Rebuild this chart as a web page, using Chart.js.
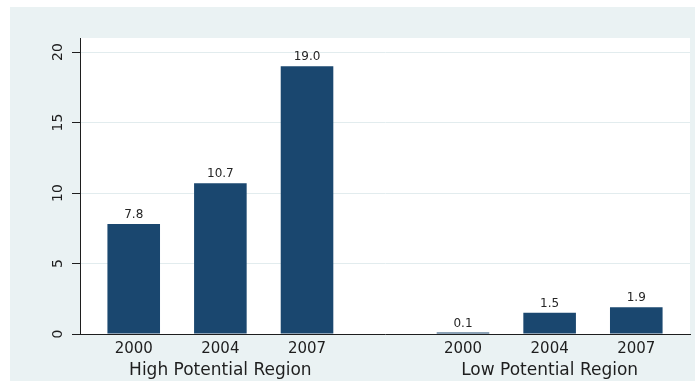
<!DOCTYPE html>
<html>
<head>
<meta charset="utf-8">
<script src="https://cdn.jsdelivr.net/npm/chart.js@4/dist/chart.umd.min.js"></script>
<style>
  html, body { margin: 0; padding: 0; background: #ffffff; }
  canvas { display: block; }
</style>
</head>
<body>
<canvas id="chart" width="696" height="384"></canvas>
<script>
// Region groups, survey years and values per region
const groups = ['High Potential Region', 'Low Potential Region'];
const years = ['2000', '2004', '2007'];
const highPotential = [7.8, 10.7, 19.0];
const lowPotential = [0.1, 1.5, 1.9];
const yTicks = [0, 5, 10, 15, 20];

const seriesByGroup = [highPotential, lowPotential];
const GROUP_GAP = 0.8;              // extra slot space between the two region groups
const slotOf = (g, i) => g * (years.length + GROUP_GAP) + i;

const points = [];
const yearTicks = [];
const groupTicks = [];
seriesByGroup.forEach((vals, g) => {
  vals.forEach((v, i) => {
    points.push({ x: slotOf(g, i), y: v });
    yearTicks.push({ value: slotOf(g, i), label: years[i] });
  });
  groupTicks.push({ value: slotOf(g, (years.length - 1) / 2), label: groups[g] });
});

const X_MIN = -0.62;
const X_MAX = slotOf(groups.length - 1, years.length - 1) + 0.62;

Chart.defaults.font.family = "'DejaVu Sans', sans-serif";

// Light outer panel and white plot region
const panelBackground = {
  id: 'panelBackground',
  beforeDraw(chart) {
    const { ctx, chartArea: a } = chart;
    ctx.save();
    ctx.fillStyle = '#ffffff';
    ctx.fillRect(0, 0, chart.width, chart.height);
    ctx.fillStyle = '#eaf2f3';
    ctx.fillRect(10, 7, chart.width - 11, chart.height - 10);
    ctx.fillStyle = '#ffffff';
    ctx.fillRect(a.left, a.top, a.right - a.left, a.bottom - a.top);
    ctx.restore();
  }
};

// Value printed above each bar
const barValues = {
  id: 'barValues',
  afterDatasetsDraw(chart) {
    const { ctx } = chart;
    const meta = chart.getDatasetMeta(0);
    ctx.save();
    ctx.font = "12px 'DejaVu Sans', sans-serif";
    ctx.fillStyle = '#262626';
    ctx.textAlign = 'center';
    ctx.textBaseline = 'alphabetic';
    meta.data.forEach((bar, i) => {
      const v = chart.data.datasets[0].data[i].y;
      ctx.fillText(v.toFixed(1), bar.x, bar.y - 6);
    });
    ctx.restore();
  }
};

new Chart(document.getElementById('chart'), {
  type: 'bar',
  data: {
    datasets: [{
      data: points,
      backgroundColor: '#1a476f',
      borderWidth: 0,
      barPercentage: 0.607,
      categoryPercentage: 1.0
    }]
  },
  options: {
    responsive: false,
    animation: false,
    layout: { padding: { left: 10, right: 6, top: 38, bottom: 4 } },
    plugins: {
      legend: { display: false },
      tooltip: { enabled: false }
    },
    scales: {
      x: {
        type: 'linear',
        position: 'bottom',
        min: X_MIN,
        max: X_MAX,
        offset: false,
        grid: { display: false, drawTicks: false },
        border: { display: true, color: '#1e1e1e', width: 1 },
        afterBuildTicks: (s) => { s.ticks = yearTicks.map(t => ({ value: t.value })); },
        afterFit: (s) => { s.height = 22; },
        ticks: {
          autoSkip: false,
          maxRotation: 0,
          minRotation: 0,
          padding: 6,
          color: '#1e1e1e',
          font: { size: 15 },
          callback: (value, index) => yearTicks[index].label
        }
      },
      xGroup: {
        type: 'linear',
        axis: 'x',
        position: 'bottom',
        weight: 1,
        min: X_MIN,
        max: X_MAX,
        offset: false,
        grid: { display: false, drawTicks: false },
        border: { display: false },
        afterBuildTicks: (s) => { s.ticks = groupTicks.map(t => ({ value: t.value })); },
        afterFit: (s) => { s.height = 24; },
        ticks: {
          autoSkip: false,
          maxRotation: 0,
          minRotation: 0,
          padding: 4,
          color: '#1e1e1e',
          font: { size: 17 },
          callback: (value, index) => groupTicks[index].label
        }
      },
      y: {
        type: 'linear',
        position: 'left',
        min: 0,
        max: 21,
        afterBuildTicks: (s) => { s.ticks = yTicks.map(v => ({ value: v })); },
        afterFit: (s) => { s.width = 70; },
        grid: {
          color: (ctx) => (ctx.tick && ctx.tick.value === 0) ? 'rgba(0,0,0,0)' : '#e2ecee',
          tickColor: '#1e1e1e',
          tickLength: 8,
          lineWidth: 1
        },
        border: { display: true, color: '#1e1e1e', width: 1 },
        ticks: {
          minRotation: 90,
          maxRotation: 90,
          crossAlign: 'center',
          padding: 5,
          color: '#1e1e1e',
          font: { size: 14 },
          callback: (value) => String(value)
        }
      }
    }
  },
  plugins: [panelBackground, barValues]
});
</script>
</body>
</html>
